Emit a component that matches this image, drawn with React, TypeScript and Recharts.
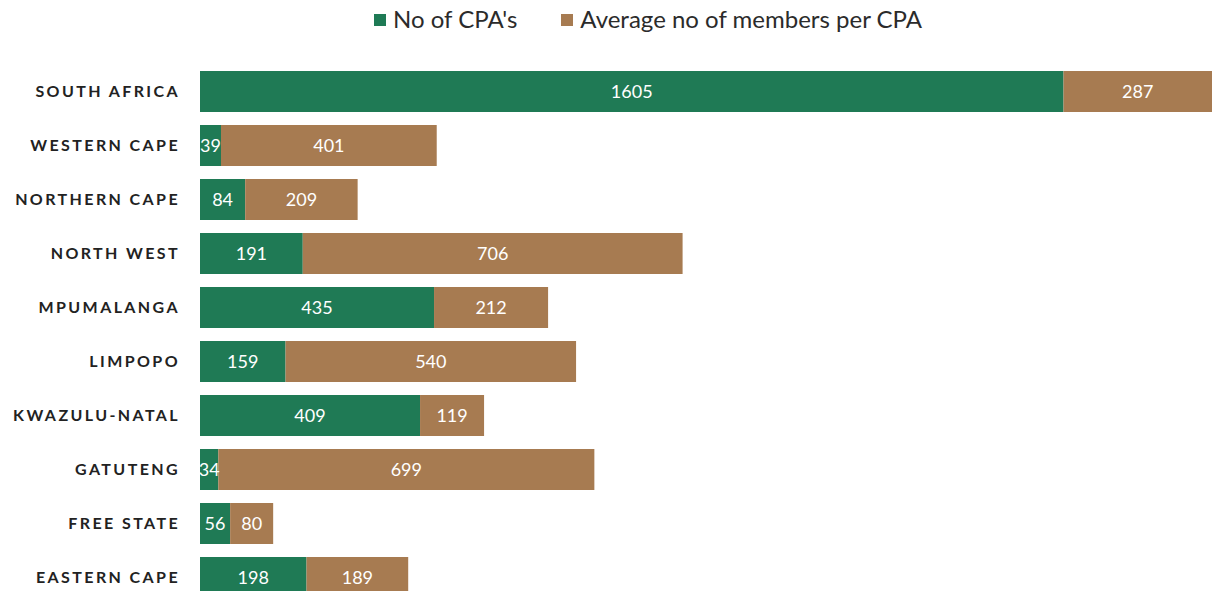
import React from "react";
import { BarChart, Bar, XAxis, YAxis, Legend, LabelList } from "recharts";

const categories = [
  "SOUTH AFRICA",
  "WESTERN CAPE",
  "NORTHERN CAPE",
  "NORTH WEST",
  "MPUMALANGA",
  "LIMPOPO",
  "KWAZULU-NATAL",
  "GATUTENG",
  "FREE STATE",
  "EASTERN CAPE",
];
const noOfCPAs = [1605, 39, 84, 191, 435, 159, 409, 34, 56, 198];
const avgMembers = [287, 401, 209, 706, 212, 540, 119, 699, 80, 189];
const seriesNames = ["No of CPA's", "Average no of members per CPA"];

const data = categories.map((name, i) => ({
  name,
  cpas: noOfCPAs[i],
  avg: avgMembers[i],
}));

const GREEN = "#1f7a55";
const BROWN = "#a77b51";
const FONT = "Lato, 'Open Sans', sans-serif";
const colors = [GREEN, BROWN];

const renderLegend = () => (
  <div
    style={{
      display: "flex",
      justifyContent: "center",
      alignItems: "center",
      gap: 44,
      fontFamily: FONT,
      fontSize: 24,
      color: "#2b2b2b",
      paddingLeft: 84,
    }}
  >
    {seriesNames.map((n, i) => (
      <div key={n} style={{ display: "flex", alignItems: "center" }}>
        <span
          style={{
            display: "inline-block",
            width: 12,
            height: 12,
            background: colors[i],
            marginRight: 7,
            marginTop: 2,
          }}
        />
        <span>{n}</span>
      </div>
    ))}
  </div>
);

export default function App() {
  return (
    <div
      style={{
        position: "absolute",
        left: 0,
        top: 0,
        width: 1212,
        height: 591,
        overflow: "hidden",
        background: "#fff",
      }}
    >
      <BarChart
        width={1212}
        height={604}
        data={data}
        layout="vertical"
        margin={{ top: 64, right: 0, bottom: 0, left: 0 }}
        barSize={41}
      >
        <XAxis type="number" domain={[0, 1881]} allowDataOverflow hide />
        <YAxis
          type="category"
          dataKey="name"
          width={200}
          axisLine={false}
          tickLine={false}
          tickSize={0}
          tickMargin={20}
          tick={{
            fill: "#222",
            fontSize: 16,
            fontWeight: 700,
            fontFamily: FONT,
            letterSpacing: 2.4,
          }}
        />
        <Legend
          verticalAlign="middle"
          align="center"
          content={renderLegend}
          wrapperStyle={{ top: 4, left: 0, width: 1212 }}
        />
        <Bar dataKey="cpas" name={seriesNames[0]} stackId="a" fill={GREEN} isAnimationActive={false}>
          <LabelList dataKey="cpas" position="center" fill="#fff" fontSize={18} fontFamily={FONT} />
        </Bar>
        <Bar dataKey="avg" name={seriesNames[1]} stackId="a" fill={BROWN} isAnimationActive={false}>
          <LabelList dataKey="avg" position="center" fill="#fff" fontSize={18} fontFamily={FONT} />
        </Bar>
      </BarChart>
    </div>
  );
}
